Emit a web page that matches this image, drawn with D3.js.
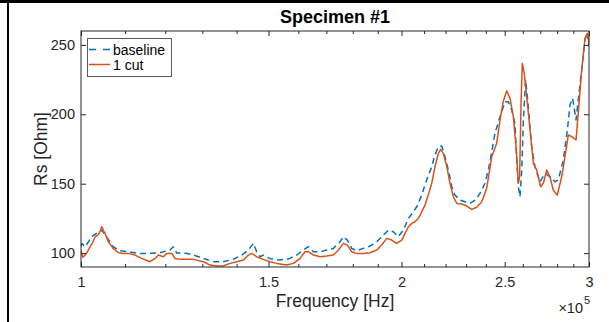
<!DOCTYPE html>
<html>
<head>
<meta charset="utf-8">
<script src="https://cdn.jsdelivr.net/npm/d3@7"></script>
<style>
  body { margin: 0; background: #fff; }
  svg { display: block; }
  text { font-family: "Liberation Sans", Arial, Helvetica, sans-serif; }
</style>
</head>
<body>
<svg id="chart" width="609" height="322"></svg>
<script>
// Series resistance of specimen #1 versus frequency (kHz), before and after one cut
const baselineFreqKHz = [
  100.0,100.2,100.9,101.6,102.3,103.4,104.6,105.7,107.2,108.8,
  110.8,113.2,115.7,118.6,121.2,122.1,123.0,124.8,127.5,130.3,
  133.1,136.0,139.0,141.6,143.6,145.2,146.2,147.3,148.3,150.5,
  153.8,157.1,159.4,161.7,163.5,165.3,167.7,170.1,172.6,175.1,
  176.4,177.9,179.6,181.5,184.1,186.8,189.6,192.3,194.4,196.5,
  198.6,200.8,203.0,205.2,206.7,207.4,208.9,211.2,213.5,215.0,
  216.6,218.2,219.7,221.3,223.0,224.5,227.0,229.4,231.9,234.5,
  237.0,239.6,241.3,242.2,244.8,247.5,250.2,252.0,253.8,255.6,
  256.6,257.5,258.4,259.4,260.3,261.6,263.1,265.0,266.9,269.8,
  272.8,275.7,278.7,280.7,283.8,286.3,287.9,289.6,291.7,293.1,
  295.3,297.4,298.9,300.0
];
const baselineRs = [
  105,107,104.6,108,111.8,114.2,116.6,111.8,104.6,101.7,
  101,99.8,99.8,100.3,102.2,104.6,100,100.3,98.6,96.2,
  93.8,93.8,95.5,98.6,102.2,107,101,97.4,98.6,96,
  95,96.2,98.6,102.2,104.6,101,101,102.2,103.4,108.2,
  111.8,109.4,103.4,101.7,103.4,105,108.2,113,116.6,115.4,
  111.8,116.6,125,129.8,133.4,135.8,141.8,152.7,162.2,170.7,
  176.7,177.1,169.5,159.9,147.8,141.8,138.2,137,135.8,138.2,
  143,150.3,160,166,186.3,198.3,209.1,209.1,203.1,193.5,
  167.1,147.8,140.6,159.9,195.9,224.7,205.5,176.7,162.2,151.4,
  157.5,155,151.4,152.7,167.1,188.7,206.7,211.5,195.9,210.3,
  231.9,253.5,258.8,248.7
];

const cutFreqKHz = [
  100.0,100.4,100.9,101.4,102.0,102.6,103.1,103.7,104.2,104.6,
  105.0,105.3,106.1,107.2,108.4,109.6,110.8,112.4,114.0,116.1,
  117.4,118.2,119.5,120.4,121.7,122.5,123.9,125.7,127.5,130.3,
  132.2,134.1,136.0,138.0,140.0,142.1,143.6,144.7,146.2,148.3,
  150.5,152.7,156.0,158.3,160.6,162.3,163.5,165.3,167.7,170.1,
  172.6,174.5,176.4,177.9,179.6,181.5,184.1,186.8,189.6,191.6,
  193.7,195.8,197.9,200.1,201.5,203.0,204.5,205.9,207.4,208.2,
  210.4,211.9,213.5,215.0,216.6,217.7,218.9,220.6,222.1,223.7,
  225.4,227.8,230.3,232.8,235.3,237.9,240.5,243.1,245.7,247.5,
  249.2,251.1,252.9,254.7,256.2,257.5,258.2,259.0,259.7,260.8,
  262.2,264.1,266.0,267.9,270.2,271.8,273.8,275.7,277.7,280.1,
  282.8,284.8,286.9,289.0,291.7,293.1,295.3,297.4,298.9,300.0
];
const cutRs = [
  102,97,98.6,101,104.6,108,111.8,113,115.4,119,
  116,114.5,108.2,103.4,100.3,99.8,99.8,98.6,96.2,93.8,
  96.2,98.6,97.4,99.8,99.8,96.2,95.5,95.5,95.5,93.8,
  91.4,90.7,90.7,92.6,93.8,95,98.6,99.8,97.4,95.5,
  93.8,92.6,91.4,92.6,96.2,101,101,98.6,97.4,97.9,
  98.6,102.2,107,105.8,101,99.8,99.8,100.3,102.2,105.8,
  110.6,109.4,107,109.4,114.2,119,121.4,122.6,125,127.4,
  134.6,141.8,150.3,162.2,171.9,174.8,171.9,162.2,150.3,140.6,
  135.8,135.4,133.9,131.5,133,137,147,169.5,179.1,195.9,
  209.1,217,211.5,198.3,176.7,150.3,155,207.9,236.7,229.5,
  212.7,188.7,164.7,159.9,147.8,150.3,159.9,155,145.5,141.8,
  155,169.5,185.1,183.9,181.5,200.7,231.9,254.7,258.3,251.1
];

const xMajorTicks = [1e5, 1.5e5, 2e5, 2.5e5, 3e5];
const xTickLabels = ["1", "1.5", "2", "2.5", "3"];
const xMinorTicks = [1.1,1.2,1.3,1.4,1.6,1.7,1.8,1.9,2.1,2.2,2.3,2.4,2.6,2.7,2.8,2.9].map(v => v * 1e5);
const yTicks = [100, 150, 200, 250];
const seriesNames = ["baseline", "1 cut"];
const seriesColors = ["#0072BD", "#D95319"];

const svg = d3.select("#chart");
const W = 609, H = 322;
const plot = { left: 81, right: 589, top: 31, bottom: 267 };
const axisColor = "#262626";
const tickFont = "14.5px";

const x = d3.scaleLog().domain([1e5, 3e5]).range([plot.left, plot.right]);
const y = d3.scaleLinear().domain([90, 260]).range([plot.bottom, plot.top]);

svg.append("rect").attr("width", W).attr("height", H).attr("fill", "#fff");

// figure frame edges
svg.append("rect").attr("x", 0).attr("y", 0).attr("width", W).attr("height", 3).attr("fill", "#000");
svg.append("rect").attr("x", 7).attr("y", 0).attr("width", 2).attr("height", H).attr("fill", "#000");

svg.append("defs").append("clipPath").attr("id", "plotClip")
  .append("rect")
  .attr("x", plot.left).attr("y", plot.top)
  .attr("width", plot.right - plot.left).attr("height", plot.bottom - plot.top);

// data series
const toPoints = (fs, rs) => fs.map((f, i) => ({ f: f * 1e3, r: rs[i] }));
const series = [
  { pts: toPoints(baselineFreqKHz, baselineRs), color: seriesColors[0], dash: "6,4" },
  { pts: toPoints(cutFreqKHz, cutRs), color: seriesColors[1], dash: null }
];
const line = d3.line().x(d => x(d.f)).y(d => y(d.r));
const gLines = svg.append("g").attr("clip-path", "url(#plotClip)");
series.forEach(s => {
  gLines.append("path")
    .datum(s.pts)
    .attr("d", line)
    .attr("fill", "none")
    .attr("stroke", s.color)
    .attr("stroke-width", 1.5)
    .attr("stroke-linejoin", "round")
    .attr("stroke-dasharray", s.dash);
});

// axes: major ticks with labels, minor ticks, mirrored on the box
function styleAxis(g) {
  g.select(".domain").remove();
  g.selectAll(".tick line").attr("stroke", axisColor).attr("stroke-width", 1);
  g.selectAll(".tick text").attr("fill", axisColor).attr("font-size", tickFont)
    .attr("font-family", '"Liberation Sans", Arial, sans-serif');
}
svg.append("g").attr("transform", `translate(0,${plot.bottom})`)
  .call(d3.axisBottom(x).tickValues(xMajorTicks).tickFormat((d, i) => xTickLabels[i])
    .tickSizeInner(-5).tickSizeOuter(0).tickPadding(10))
  .call(styleAxis);
svg.append("g").attr("transform", `translate(0,${plot.bottom})`)
  .call(d3.axisBottom(x).tickValues(xMinorTicks).tickFormat("").tickSizeInner(-3).tickSizeOuter(0))
  .call(styleAxis);
svg.append("g").attr("transform", `translate(0,${plot.top})`)
  .call(d3.axisTop(x).tickValues(xMajorTicks).tickFormat("").tickSizeInner(-5).tickSizeOuter(0))
  .call(styleAxis);
svg.append("g").attr("transform", `translate(0,${plot.top})`)
  .call(d3.axisTop(x).tickValues(xMinorTicks).tickFormat("").tickSizeInner(-3).tickSizeOuter(0))
  .call(styleAxis);
svg.append("g").attr("transform", `translate(${plot.left},0)`)
  .call(d3.axisLeft(y).tickValues(yTicks).tickSizeInner(-5).tickSizeOuter(0).tickPadding(6))
  .call(styleAxis);
svg.append("g").attr("transform", `translate(${plot.right},0)`)
  .call(d3.axisRight(y).tickValues(yTicks).tickFormat("").tickSizeInner(-5).tickSizeOuter(0))
  .call(styleAxis);

// axes box
svg.append("rect")
  .attr("x", plot.left).attr("y", plot.top)
  .attr("width", plot.right - plot.left).attr("height", plot.bottom - plot.top)
  .attr("fill", "none").attr("stroke", axisColor).attr("stroke-width", 1);

// title and axis labels
svg.append("text").attr("x", (plot.left + plot.right) / 2).attr("y", 23)
  .attr("text-anchor", "middle").attr("font-size", "18px").attr("font-weight", "bold")
  .attr("fill", "#000").text("Specimen #1");
svg.append("text").attr("x", (plot.left + plot.right) / 2).attr("y", 307)
  .attr("text-anchor", "middle").attr("font-size", "17.5px").attr("fill", axisColor)
  .text("Frequency [Hz]");
svg.append("text").attr("transform", `translate(47,${(plot.top + plot.bottom) / 2}) rotate(-90)`)
  .attr("text-anchor", "middle").attr("font-size", "17.5px").attr("fill", axisColor)
  .text("Rs [Ohm]");

// x exponent
svg.append("text").attr("x", 583).attr("y", 313).attr("text-anchor", "end")
  .attr("font-size", tickFont).attr("fill", axisColor).text("×10");
svg.append("text").attr("x", 584).attr("y", 304)
  .attr("font-size", "11px").attr("fill", axisColor).text("5");

// legend
const lg = svg.append("g");
lg.append("rect").attr("x", 87.5).attr("y", 38.5).attr("width", 84).attr("height", 38)
  .attr("fill", "#fff").attr("stroke", "#5a5a5a").attr("stroke-width", 1);
seriesNames.forEach((name, i) => {
  const cy = 49.5 + i * 15;
  lg.append("line").attr("x1", 89).attr("x2", 110).attr("y1", cy).attr("y2", cy)
    .attr("stroke", seriesColors[i]).attr("stroke-width", 1.5)
    .attr("stroke-dasharray", i === 0 ? "7,7" : null);
  lg.append("text").attr("x", 113).attr("y", cy + 5)
    .attr("font-size", "14px").attr("fill", "#000").text(name);
});
</script>
</body>
</html>
